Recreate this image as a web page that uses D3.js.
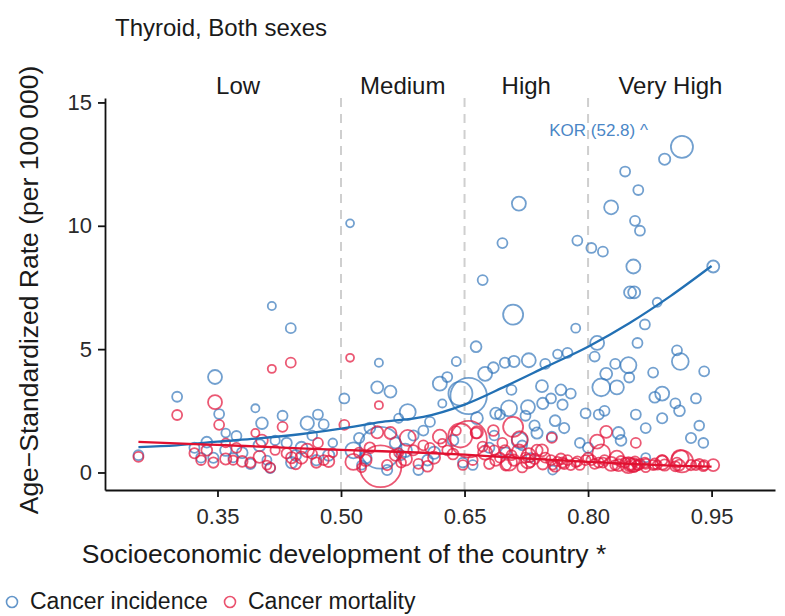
<!DOCTYPE html>
<html>
<head>
<meta charset="utf-8">
<script src="https://cdn.jsdelivr.net/npm/d3@7"></script>
<style>
  body { margin: 0; background: #fff; }
  svg { font-family: "Liberation Sans", Arial, sans-serif; }
</style>
</head>
<body>
<svg id="chart" width="785" height="616"></svg>
<script>
// one entry per country: socioeconomic index, incidence, mortality, population (millions)
const lowSdi  = [0.254, 0.301, 0.322, 0.337, 0.345, 0.347, 0.352, 0.36, 0.369, 0.373, 0.38, 0.396, 0.401, 0.404, 0.41, 0.414, 0.416, 0.42, 0.429, 0.434, 0.439, 0.445, 0.452, 0.459, 0.465, 0.472, 0.479, 0.485, 0.49, 0.33, 0.39, 0.44, 0.36, 0.47]
const lowInc  = [0.70, 3.07, 1.0, 1.23, 0.6, 3.87, 2.37, 0.9, 0.6, 1.48, 0.8, 2.6, 1.1, 2.0, 0.5, 0.18, 6.75, 1.3, 2.3, 1.2, 5.85, 0.7, 1.0, 2.0, 1.5, 2.35, 1.95, 0.7, 1.2, 0.6, 0.35, 0.4, 1.6, 0.5]
const lowMort = [0.63, 2.33, 0.78, 0.9, 0.4, 2.85, 1.93, 0.55, 0.5, 1.0, 0.45, 1.6, 0.63, 1.3, 0.3, 0.2, 4.2, 0.9, 1.85, 0.78, 4.45, 0.35, 0.6, 0.9, 0.75, 1.2, 0.5, 0.45, 0.8, 0.5, 0.4, 0.6, 1.2, 0.4]
const lowPop  = [17, 17, 18, 25, 20, 69, 17, 30, 12, 17, 25, 5, 39, 35, 10, 17, 5, 12, 17, 20, 17, 25, 40, 60, 15, 17, 17, 30, 8, 15, 20, 30, 8, 20]

const medSdi  = [0.504, 0.511, 0.515, 0.522, 0.53, 0.535, 0.544, 0.546, 0.548, 0.556, 0.56, 0.566, 0.573, 0.581, 0.588, 0.594, 0.6, 0.608, 0.613, 0.62, 0.623, 0.629, 0.636, 0.64, 0.645, 0.648, 0.525, 0.578, 0.605, 0.57]
const medInc  = [3.0, 10.1, 0.9, 1.4, 0.6, 1.8, 3.45, 4.45, 1.0, 0.1, 3.28, 1.2, 0.7, 2.45, 1.5, 0.1, 1.7, 2.05, 0.8, 3.6, 2.8, 3.87, 1.3, 4.5, 3.2, 0.4, 0.3, 0.9, 0.5, 2.2]
const medMort = [1.93, 4.65, 0.43, 0.8, 0.5, 1.0, 1.63, 2.73, 0.25, 0.3, 1.6, 0.7, 0.4, 1.4, 0.9, 0.35, 1.1, 1.0, 0.6, 1.45, 1.2, 0.9, 0.75, 1.7, 1.5, 0.3, 0.2, 0.55, 0.25, 0.8]
const medPop  = [17, 4, 108, 20, 35, 25, 39, 5, 1380, 20, 39, 30, 15, 108, 20, 17, 17, 17, 40, 69, 5, 17, 25, 10, 350, 15, 10, 60, 25, 10]

const highSdi  = [0.655, 0.664, 0.665, 0.672, 0.675, 0.685, 0.688, 0.693, 0.696, 0.699, 0.704, 0.707, 0.709, 0.71, 0.716, 0.717, 0.724, 0.727, 0.728, 0.735, 0.738, 0.744, 0.745, 0.748, 0.755, 0.756, 0.757, 0.763, 0.767, 0.769, 0.771, 0.775, 0.779, 0.785, 0.787, 0.797, 0.79, 0.68, 0.66, 0.70, 0.72, 0.73, 0.76, 0.686]
const highInc  = [3.1, 5.1, 2.2, 7.8, 4.0, 4.25, 2.4, 2.35, 9.3, 4.45, 2.6, 3.35, 6.4, 4.5, 10.9, 1.3, 2.3, 2.65, 4.55, 1.9, 1.6, 3.5, 2.8, 4.4, 3.0, 1.45, 0.1, 4.8, 3.35, 2.75, 1.8, 4.85, 3.2, 5.85, 9.4, 2.4, 1.2, 1.0, 0.3, 0.8, 1.1, 0.6, 2.1, 1.5]
const highMort = [1.35, 1.6, 1.63, 1.05, 0.8, 1.7, 0.5, 0.6, 1.2, 0.9, 0.4, 0.7, 1.85, 0.5, 0.85, 1.35, 0.6, 0.45, 0.7, 0.55, 0.9, 0.9, 0.35, 0.6, 0.5, 1.4, 0.3, 0.45, 0.55, 0.4, 0.35, 0.5, 0.3, 0.4, 0.45, 0.5, 0.3, 0.35, 0.5, 0.3, 0.2, 0.4, 0.25, 0.9]
const highPop  = [1000, 25, 39, 17, 69, 25, 30, 17, 17, 20, 108, 17, 212, 30, 69, 108, 17, 69, 69, 20, 30, 39, 30, 17, 17, 17, 10, 10, 25, 20, 20, 17, 17, 10, 17, 17, 15, 20, 15, 25, 15, 10, 25, 15]

const vhSdi  = [0.804, 0.808, 0.811, 0.813, 0.816, 0.818, 0.822, 0.828, 0.833, 0.835, 0.837, 0.845, 0.849, 0.85, 0.851, 0.855, 0.857, 0.858, 0.86, 0.861, 0.863, 0.869, 0.879, 0.881, 0.884, 0.89, 0.893, 0.908, 0.906, 0.911, 0.912, 0.931, 0.941, 0.952, 0.914, 0.80, 0.82, 0.84, 0.87, 0.89, 0.925, 0.935, 0.94, 0.87, 0.856]
const vhInc  = [9.1, 4.7, 5.25, 2.35, 3.45, 8.95, 4.0, 10.75, 4.4, 3.45, 1.6, 12.2, 4.35, 3.85, 7.3, 8.35, 10.2, 2.35, 5.25, 11.45, 9.8, 6.0, 4.05, 3.05, 6.9, 3.2, 12.7, 4.95, 2.8, 2.5, 4.5, 3.0, 4.1, 8.35, 13.2, 1.0, 2.5, 1.3, 1.8, 2.2, 1.4, 1.9, 1.2, 0.6, 7.3]
const vhMort = [0.5, 0.35, 1.25, 0.4, 0.78, 0.4, 1.65, 0.35, 0.3, 0.6, 0.3, 0.4, 0.3, 0.25, 0.35, 0.3, 0.45, 1.2, 0.3, 0.3, 0.35, 0.4, 0.3, 0.35, 0.3, 0.4, 0.3, 0.4, 0.25, 0.3, 0.58, 0.3, 0.3, 0.3, 0.45, 0.6, 0.5, 0.45, 0.35, 0.5, 0.3, 0.35, 0.25, 0.2, 0.28]
const vhPop  = [17, 17, 69, 17, 150, 17, 39, 69, 17, 69, 39, 17, 108, 17, 39, 69, 17, 17, 17, 17, 17, 17, 17, 25, 10, 69, 30, 17, 17, 25, 125, 17, 17, 39, 280, 20, 17, 25, 17, 20, 20, 15, 15, 10, 39]

// smoothed trend
const trendX    = [0.254, 0.30, 0.35, 0.40, 0.45, 0.50, 0.55, 0.60, 0.65, 0.70, 0.75, 0.80, 0.85, 0.90, 0.95]
const trendInc  = [1.03, 1.1, 1.25, 1.38, 1.55, 1.78, 2.05, 2.25, 2.75, 3.5, 4.3, 5.1, 6.05, 7.15, 8.37]
const trendMort = [1.24, 1.18, 1.12, 1.05, 0.98, 0.92, 0.86, 0.8, 0.72, 0.62, 0.52, 0.43, 0.35, 0.28, 0.24]

const bandCuts   = [0.50, 0.65, 0.80]
const bandNames  = ['Low', 'Medium', 'High', 'Very High']
const bandCenter = [0.375, 0.575, 0.725, 0.90]
const xTicks = [0.35, 0.50, 0.65, 0.80, 0.95]
const yTicks = [0, 5, 10, 15]

const blue = '#2f73b8'
const red = '#e3173d'

let sdi = lowSdi.concat(medSdi, highSdi, vhSdi)
let inc = lowInc.concat(medInc, highInc, vhInc)
let mort = lowMort.concat(medMort, highMort, vhMort)
let pop = lowPop.concat(medPop, highPop, vhPop)
let countries = sdi.map((d, i) => ({ sdi: d, inc: inc[i], mort: mort[i], pop: pop[i] }))

let svg = d3.select('#chart')
let xScale = d3.scaleLinear().domain([0.2134, 1.027]).range([105, 775])
let yScale = d3.scaleLinear().domain([-0.71, 15.18]).range([490, 98])
let rScale = d3.scaleSqrt().domain([0, 1400]).range([3, 21])

svg.append('text').attr('x', 115).attr('y', 36)
  .style('font-size', '24px').style('fill', '#1a1a1a')
  .text('Thyroid, Both sexes')

// band separators
svg.selectAll('line.cut').data(bandCuts).enter()
  .append('line').attr('class', 'cut')
  .attr('x1', d => xScale(d)).attr('x2', d => xScale(d))
  .attr('y1', 98).attr('y2', 490)
  .style('stroke', '#cfcfcf').style('stroke-width', 2)
  .style('stroke-dasharray', '9,7')

svg.selectAll('text.band').data(bandNames).enter()
  .append('text').attr('class', 'band')
  .attr('x', (d, i) => xScale(bandCenter[i])).attr('y', 94)
  .attr('text-anchor', 'middle')
  .style('font-size', '24px').style('fill', '#1a1a1a')
  .text(d => d)

svg.append('g').selectAll('circle').data(countries).enter()
  .append('circle')
  .attr('cx', d => xScale(d.sdi)).attr('cy', d => yScale(d.inc))
  .attr('r', d => rScale(d.pop))
  .style('fill', 'none').style('stroke', blue)
  .style('stroke-width', 1.8).style('stroke-opacity', 0.68)

svg.append('g').selectAll('circle').data(countries).enter()
  .append('circle')
  .attr('cx', d => xScale(d.sdi)).attr('cy', d => yScale(d.mort))
  .attr('r', d => rScale(d.pop))
  .style('fill', 'none').style('stroke', red)
  .style('stroke-width', 1.8).style('stroke-opacity', 0.72)

let line = d3.line().curve(d3.curveMonotoneX)
  .x(d => xScale(d[0])).y(d => yScale(d[1]))

svg.append('path').datum(trendX.map((d, i) => [d, trendInc[i]]))
  .attr('d', line).style('fill', 'none')
  .style('stroke', '#2270b4').style('stroke-width', 2.3)

svg.append('path').datum(trendX.map((d, i) => [d, trendMort[i]]))
  .attr('d', line).style('fill', 'none')
  .style('stroke', '#e0102f').style('stroke-width', 2.3)

// KOR is off the scale, shown capped with its real value
let kor = countries.find(d => d.pop === 280)
svg.append('text')
  .attr('x', xScale(kor.sdi) - 34).attr('y', yScale(kor.inc) - 11)
  .attr('text-anchor', 'end')
  .style('font-size', '17px').style('fill', '#4a86c6')
  .text('KOR (52.8) ^')

let xAxis = d3.axisBottom(xScale).tickValues(xTicks)
  .tickFormat(d3.format('.2f')).tickSize(7).tickSizeOuter(0).tickPadding(11)
let yAxis = d3.axisLeft(yScale).tickValues(yTicks)
  .tickSize(7).tickSizeOuter(0).tickPadding(6)

svg.append('g').attr('class', 'x axis')
  .attr('transform', 'translate(0, 490)').call(xAxis)
svg.append('g').attr('class', 'y axis')
  .attr('transform', 'translate(105, 0)').call(yAxis)

svg.selectAll('.axis path, .axis line').style('stroke', '#111').style('stroke-width', 1.8)
svg.selectAll('.axis text').style('font-size', '22px').style('fill', '#2a2a2a')
  .style('font-family', '"Liberation Sans", Arial, sans-serif')

svg.append('text').attr('x', 344).attr('y', 563)
  .attr('text-anchor', 'middle')
  .style('font-size', '26.5px').style('fill', '#1a1a1a')
  .text('Socioeconomic development of the country *')

svg.append('text')
  .attr('transform', 'translate(38, 290) rotate(-90)')
  .attr('text-anchor', 'middle')
  .style('font-size', '26.5px').style('fill', '#1a1a1a')
  .text('Age\u2212Standardized Rate (per 100 000)')

// legend
let legend = [['Cancer incidence', blue, 12], ['Cancer mortality', red, 230]]
legend.forEach(l => {
  svg.append('circle').attr('cx', l[2]).attr('cy', 602).attr('r', 5.5)
    .style('fill', 'none').style('stroke', l[1]).style('stroke-width', 1.6)
    .style('stroke-opacity', 0.75)
  svg.append('text').attr('x', l[2] + 18).attr('y', 609)
    .style('font-size', '23px').style('fill', '#1a1a1a')
    .text(l[0])
})
</script>
</body>
</html>
